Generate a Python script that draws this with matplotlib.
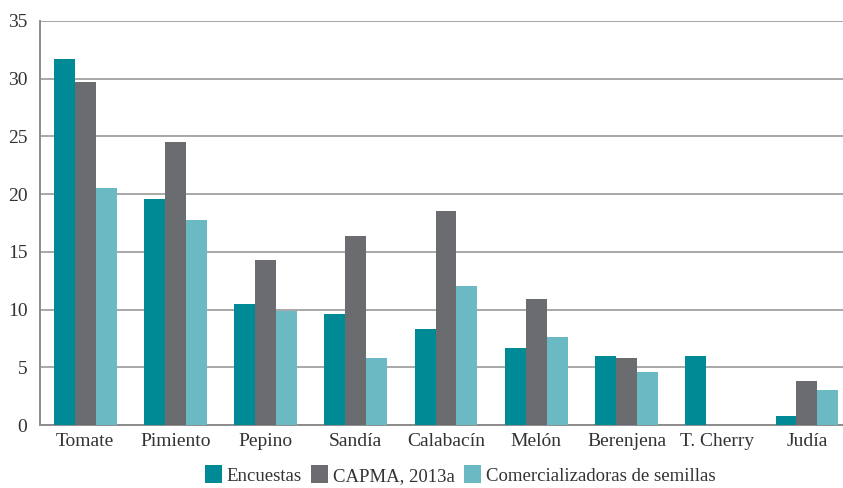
import matplotlib.pyplot as plt
import numpy as np

plt.rcParams['font.family'] = ['Liberation Serif', 'DejaVu Serif']

categories = ['Tomate', 'Pimiento', 'Pepino', 'Sandía', 'Calabacín',
              'Melón', 'Berenjena', 'T. Cherry', 'Judía']
encuestas = [31.7, 19.6, 10.5, 9.6, 8.3, 6.7, 6.0, 6.0, 0.8]
capma = [29.7, 24.5, 14.3, 16.4, 18.5, 10.9, 5.8, 0.0, 3.8]
comercializadoras = [20.5, 17.8, 9.9, 5.8, 12.0, 7.6, 4.6, 0.0, 3.0]
yticks = [0, 5, 10, 15, 20, 25, 30, 35]

series = [
    (encuestas, 'Encuestas', '#008a96'),
    (capma, 'CAPMA, 2013a', '#6b6c70'),
    (comercializadoras, 'Comercializadoras de semillas', '#6bb9c2'),
]

fig = plt.figure(figsize=(8.43, 4.88), dpi=100)
ax = fig.add_axes([40 / 843, 63 / 488, 803 / 843, 404 / 488])

x = np.arange(len(categories))
w = 0.232
for i, (vals, label, color) in enumerate(series):
    ax.bar(x + (i - 1) * w, vals, w, label=label, color=color, zorder=3)

ax.set_xlim(-0.5, 8.4)
ax.set_ylim(0, 35)
ax.set_yticks(yticks)
ax.set_xticks(x)
ax.set_xticklabels(categories, fontsize=14, color='#333333')
ax.tick_params(axis='y', labelsize=14, colors='#333333', length=0, pad=9)
ax.tick_params(axis='x', length=0, pad=6)
ax.grid(True, axis='y', color='#a8a8a8', linewidth=1.4, zorder=0)
for side in ['top', 'right']:
    ax.spines[side].set_visible(False)
for side in ['left', 'bottom']:
    ax.spines[side].set_color('#8c8c8c')
    ax.spines[side].set_linewidth(1.4)

leg = fig.legend(loc='lower center', bbox_to_anchor=(0.546, -0.028), ncol=3,
                 frameon=False, fontsize=13.5, handlelength=0.9, handleheight=1.1,
                 handletextpad=0.25, columnspacing=0.5)
for t in leg.get_texts():
    t.set_color('#333333')

fig.savefig('out.png', dpi=100)
